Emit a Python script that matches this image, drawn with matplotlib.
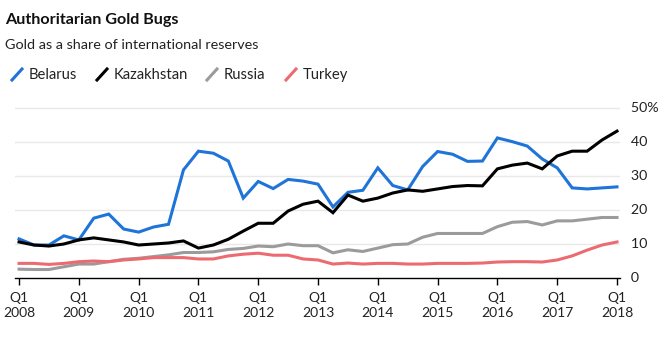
import matplotlib
matplotlib.use("Agg")
import matplotlib.pyplot as plt
from matplotlib.lines import Line2D

plt.rcParams['font.family'] = ['Lato', 'DejaVu Sans']

quarters = list(range(41))  # 2008 Q1 .. 2018 Q1
years = [str(y) for y in range(2008, 2019)]

belarus = [11.5, 9.7, 9.7, 12.4, 11.2, 17.6, 18.8, 14.4, 13.5, 15.0,
           15.8, 31.8, 37.3, 36.7, 34.4, 23.5, 28.4, 26.3, 29.0, 28.5,
           27.6, 20.9, 25.2, 25.8, 32.4, 27.2, 25.9, 32.8, 37.2, 36.4,
           34.3, 34.4, 41.2, 40.1, 38.8, 35.0, 32.4, 26.5, 26.2, 26.5, 26.8]
kazakhstan = [10.6, 9.7, 9.4, 10.0, 11.2, 11.8, 11.2, 10.6, 9.7, 10.0,
              10.3, 10.9, 8.8, 9.7, 11.4, 13.8, 16.1, 16.1, 19.7, 21.7,
              22.6, 19.2, 24.4, 22.6, 23.5, 25.0, 25.9, 25.5, 26.2, 26.9,
              27.2, 27.1, 32.1, 33.2, 33.8, 32.1, 35.9, 37.3, 37.3, 40.6, 43.2]
russia = [2.6, 2.5, 2.5, 3.3, 4.1, 4.1, 4.8, 5.5, 5.8, 6.3,
          6.8, 7.5, 7.5, 7.7, 8.4, 8.7, 9.4, 9.2, 10.0, 9.5,
          9.5, 7.4, 8.3, 7.8, 8.8, 9.8, 10.0, 12.0, 13.1, 13.1,
          13.1, 13.1, 15.1, 16.4, 16.6, 15.6, 16.8, 16.8, 17.3, 17.8, 17.8]
turkey = [4.3, 4.3, 4.0, 4.3, 4.8, 5.0, 4.8, 5.3, 5.6, 6.0,
          6.0, 6.0, 5.6, 5.6, 6.5, 7.0, 7.3, 6.7, 6.7, 5.6,
          5.3, 4.1, 4.4, 4.1, 4.3, 4.3, 4.1, 4.1, 4.3, 4.3,
          4.3, 4.4, 4.7, 4.8, 4.8, 4.7, 5.3, 6.5, 8.2, 9.7, 10.6]

series = [("Belarus", belarus, "#1f74d8"),
          ("Kazakhstan", kazakhstan, "#000000"),
          ("Russia", russia, "#9b9b9b"),
          ("Turkey", turkey, "#ec6b70")]
yticks = [0, 10, 20, 30, 40, 50]
ytick_labels = ["0", "10", "20", "30", "40", "50%"]

W, H = 662, 340
fig = plt.figure(figsize=(W / 100, H / 100), dpi=100)
fig.patch.set_facecolor("white")

left_px, right_px = 15, 620
bottom_px = 62
ymax = 50.5
height_px = ymax * 3.4
ax = fig.add_axes([left_px / W, bottom_px / H, (right_px - left_px) / W, height_px / H])
ax.set_xlim(-0.27, 40.2)
ax.set_ylim(0, ymax)

for y in yticks[1:]:
    ax.axhline(y, color="#e8e8e8", lw=1.0, zorder=0)

for i in [2, 3, 0, 1]:
    name, vals, col = series[i]
    ax.plot(quarters, vals, color=col, lw=2.2, solid_joinstyle="miter", zorder=3 + i)

for s in ["top", "right", "left"]:
    ax.spines[s].set_visible(False)
ax.spines["bottom"].set_color("black")
ax.spines["bottom"].set_linewidth(1.0)
ax.set_xticks(quarters[::4])
ax.set_xticklabels(["Q1\n" + y for y in years], fontsize=10, color="#222222", linespacing=1.3)
ax.tick_params(axis="x", length=5, width=1, color="black", pad=5)
ax.set_yticks([])
for y, lab in zip(yticks, ytick_labels):
    ax.text(1.0, y, "   " + lab, transform=ax.get_yaxis_transform(), ha="left",
            va="center", fontsize=10.3, color="#222222")

fig.text(5 / W, 1 - 20 / H, "Authoritarian Gold Bugs", fontsize=11.6, fontweight="bold",
         ha="left", va="center", color="#111111")
fig.text(5 / W, 1 - 45 / H, "Gold as a share of international reserves", fontsize=10.4,
         ha="left", va="center", color="#222222")

leg_x = [12, 97, 207, 286]
for (name, vals, col), lx in zip(series, leg_x):
    fig.add_artist(Line2D([lx / W, (lx + 10) / W], [1 - 80 / H, 1 - 69 / H],
                          color=col, lw=2.2, transform=fig.transFigure))
    fig.text((lx + 17) / W, 1 - 75 / H, name, fontsize=10.6, ha="left", va="center",
             color="#222222")

fig.savefig("out.png", dpi=100, facecolor="white")
